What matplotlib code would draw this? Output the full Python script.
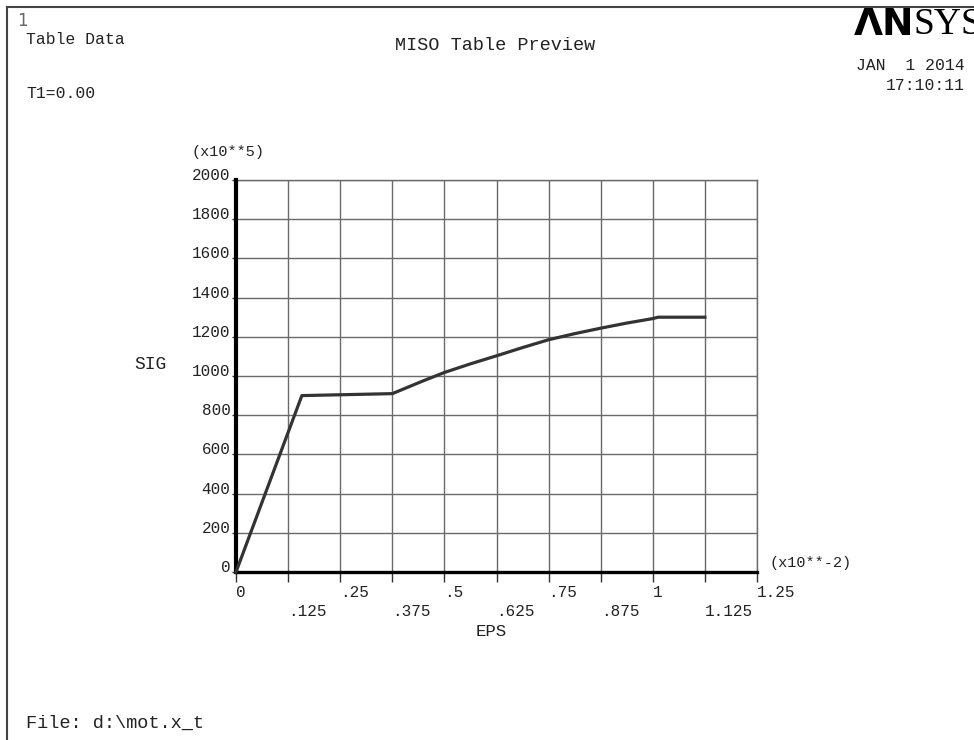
import matplotlib
matplotlib.use("Agg")
import matplotlib.pyplot as plt
from matplotlib.lines import Line2D

# MISO table: strain (x10**-2) vs stress (x10**5)
eps = [0, 0.158, 0.375, 0.40, 0.45, 0.5, 0.5625, 0.625, 0.6875, 0.75,
       0.8125, 0.875, 0.9375, 1.0, 1.0125, 1.125]
sig = [0, 900, 910, 932, 976, 1018, 1062, 1103, 1145, 1185,
       1216, 1244, 1270, 1293, 1300, 1300]

x_major = [0, 0.25, 0.5, 0.75, 1.0, 1.25]
x_major_labels = ["0", ".25", ".5", ".75", "1", "1.25"]
x_minor = [0.125, 0.375, 0.625, 0.875, 1.125]
x_minor_labels = [".125", ".375", ".625", ".875", "1.125"]
y_ticks = [0, 200, 400, 600, 800, 1000, 1200, 1400, 1600, 1800, 2000]

MONO = "Liberation Mono"
TXT = "#222222"

W, H = 974, 740
fig = plt.figure(figsize=(W / 100, H / 100), dpi=100)
fig.patch.set_facecolor("white")

def px(x, y):
    return x / W, 1 - y / H

ax = fig.add_axes([236 / W, 1 - 572 / H, (757 - 236) / W, (572 - 180) / H])
ax.set_xlim(0, 1.25)
ax.set_ylim(0, 2000)

ax.set_xticks(x_major, labels=x_major_labels)
ax.set_xticks(x_minor, labels=x_minor_labels, minor=True)
ax.set_yticks(y_ticks, labels=[str(v) for v in y_ticks])

ax.grid(True, which="both", color="#6a6a6a", lw=1.0)
ax.set_axisbelow(True)

for s in ["top", "right"]:
    ax.spines[s].set_visible(False)
ax.spines["left"].set_linewidth(3.0)
ax.spines["bottom"].set_linewidth(2.4)
ax.spines["left"].set_color("black")
ax.spines["bottom"].set_color("black")
ax.spines["left"].set_zorder(5)
ax.spines["bottom"].set_zorder(5)

ax.tick_params(axis="x", which="major", length=7, width=1, color="#333",
               pad=2.5, labelsize=11.5, labelcolor=TXT)
ax.tick_params(axis="x", which="minor", length=7, width=1, color="#333",
               pad=16, labelsize=11.5, labelcolor=TXT)
ax.tick_params(axis="y", length=3, width=1, color="#333", pad=1,
               labelsize=11.5, labelcolor=TXT)

for lab in ax.get_xticklabels() + ax.get_xticklabels(minor=True):
    lab.set_fontfamily(MONO)
    lab.set_horizontalalignment("left")
for lab in ax.get_yticklabels():
    lab.set_fontfamily(MONO)
    lab.set_verticalalignment("baseline")

# top/right grid edges drawn gray like the rest of the grid
ax.axhline(2000, color="#6a6a6a", lw=1.0, clip_on=False)
ax.axvline(1.25, color="#6a6a6a", lw=1.0, clip_on=False)

ax.plot(eps, sig, color="#333333", lw=2.3, zorder=6, clip_on=False)

# annotations around the plot
def label(x, y, s, size=12, ha="left", va="center", color=TXT, family=MONO, **kw):
    fig.text(*px(x, y), s, fontsize=size, ha=ha, va=va, color=color,
             family=family, **kw)

label(17, 21, "1", size=12, color="#666666", family="DejaVu Sans")
label(26, 40, "Table Data", size=11.8)
label(26, 93, "T1=0.00", size=11.8)
label(495, 45, "MISO Table Preview", size=13.3, ha="center")
label(965, 65, "JAN  1 2014", size=11.8, ha="right")
label(965, 85, "17:10:11", size=11.8, ha="right")
label(192, 152, "(x10**5)", size=11)
label(150, 365, "SIG", size=13, ha="center")
label(491, 632, "EPS", size=12.5, ha="center")
label(769, 563, "(x10**-2)", size=11)
label(26, 723, "File: d:\\mot.x_t", size=13.4)

# product logo in the corner
label(914, 25, "\u039bN", size=27, ha="right", color="black",
      family="DejaVu Sans", weight="heavy")
label(913, 25, "SYS", size=27, ha="left", color="black",
      family="Liberation Serif")

# window frame lines
fig.add_artist(Line2D([7 / W, 1], [1 - 7 / H, 1 - 7 / H], color="#444444", lw=1.5))
fig.add_artist(Line2D([7 / W, 7 / W], [0, 1 - 7 / H], color="#444444", lw=1.5))

fig.savefig("out.png", dpi=100)
